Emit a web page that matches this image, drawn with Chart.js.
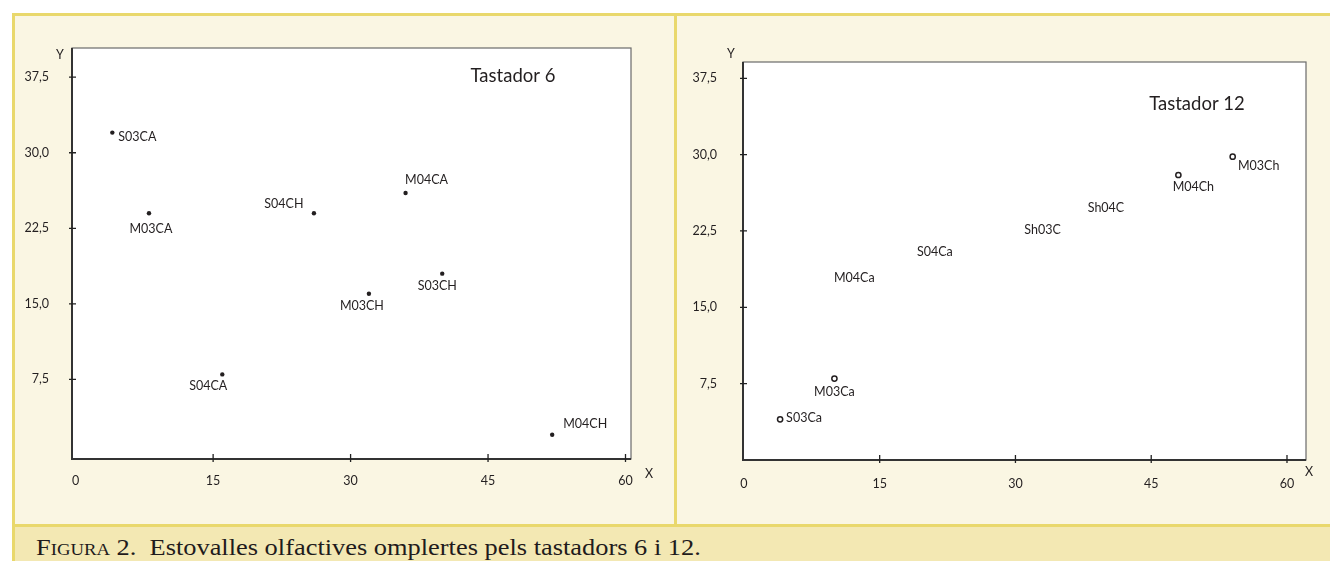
<!DOCTYPE html>
<html>
<head>
<meta charset="utf-8">
<script src="https://cdn.jsdelivr.net/npm/chart.js@4"></script>
<style>
  html, body { margin: 0; padding: 0; background: #fff; width: 1330px; height: 561px; overflow: hidden; }
  #frame { position: absolute; left: 12px; top: 13px; width: 1318px; height: 508px;
           background: #faf6e3; border-top: 3px solid #e9d86c; border-left: 3px solid #e9d86c;
           border-bottom: 3px solid #e9d86c; }
  #divider { position: absolute; left: 674px; top: 13px; width: 3px; height: 514px; background: #e9d86c; }
  #band { position: absolute; left: 12px; top: 527px; width: 1318px; height: 34px;
          background: #f3e8b3; border-left: 3px solid #e9d86c; }
  #caption { position: absolute; left: 36px; top: 530px; line-height: 34px; white-space: nowrap;
             font-family: "Liberation Serif", "DejaVu Serif", serif; font-size: 24px; color: #1f1b1c;
             transform-origin: 0 0; }
  #caption .sc { font-variant: small-caps; }
  canvas { position: absolute; }
  #c1 { left: 15px; top: 16px; }
  #c2 { left: 677px; top: 16px; }
</style>
</head>
<body>
<div id="frame"></div>
<div id="divider"></div>
<div id="band"></div>
<div id="caption"><span class="sc">Figura</span> 2.&nbsp; Estovalles olfactives omplertes pels tastadors 6 i 12.</div>
<canvas id="c1" width="659" height="508"></canvas>
<canvas id="c2" width="653" height="508"></canvas>
<script>
// tick values shared by both panels
const xTicks = [0, 15, 30, 45, 60];
const yTicks = [7.5, 15, 22.5, 30, 37.5];

// Tastador 6
const leftNames = ['S03CA', 'M03CA', 'S04CH', 'M04CA', 'S03CH', 'M03CH', 'S04CA', 'M04CH'];
const leftX = [4, 8, 26, 36, 40, 32, 16, 52];
const leftY = [32, 24, 24, 26, 18, 16, 8, 2];

// Tastador 12 (marked points)
const rightNames = ['S03Ca', 'M03Ca', 'M04Ch', 'M03Ch'];
const rightX = [4, 10, 48, 54];
const rightY = [4, 8, 28, 29.8];

// Tastador 12 (labels drawn without a marker)
const rightTextNames = ['M04Ca', 'S04Ca', 'Sh03C', 'Sh04C'];
const rightTextX = [12.2, 21.1, 33, 40];
const rightTextY = [17.9, 20.4, 22.6, 24.8];

// label placement relative to the marker: [dx, dy, align]
const leftLabelPos = [[6, 4, 'left'], [2, 16, 'center'], [-30, -9, 'center'], [21, -13, 'center'],
                      [-5, 12, 'center'], [-7, 12, 'center'], [-14, 12, 'center'], [33, -11, 'center']];
const rightLabelPos = [[6, -1, 'left'], [0, 13, 'center'], [15, 12, 'center'], [26, 9, 'center']];
const rightTextPos = rightTextNames.map(() => [0, 0, 'center']);

Chart.defaults.font.family = 'Lato, "Open Sans", sans-serif';
Chart.defaults.color = '#231f20';

const ink = '#231f20';

const toPts = (xs, ys) => xs.map((x, i) => ({ x: x, y: ys[i] }));

const panelPlugin = {
  id: 'panel',
  beforeDraw(chart) {
    const { ctx, chartArea: a } = chart;
    ctx.save();
    ctx.fillStyle = '#fff';
    ctx.fillRect(a.left, a.top, a.right - a.left, a.bottom - a.top);
    ctx.restore();
  },
  afterDraw(chart, args, opts) {
    const { ctx, chartArea: a, scales } = chart;
    ctx.save();
    // frame of the plot
    ctx.strokeStyle = '#6a6a6a';
    ctx.lineWidth = 1.2;
    ctx.strokeRect(a.left, a.top, a.right - a.left, a.bottom - a.top);
    ctx.strokeStyle = '#333';
    ctx.lineWidth = 2;
    ctx.beginPath();
    ctx.moveTo(a.left, a.top);
    ctx.lineTo(a.left, a.bottom);
    ctx.lineTo(a.right, a.bottom);
    ctx.stroke();
    // tick marks crossing the axes
    ctx.lineWidth = 1.3;
    ctx.strokeStyle = '#222';
    ctx.beginPath();
    yTicks.forEach(v => {
      const y = scales.y.getPixelForValue(v);
      ctx.moveTo(a.left - 3, y); ctx.lineTo(a.left + 4, y);
    });
    xTicks.filter(v => v > 0).forEach(v => {
      const x = scales.x.getPixelForValue(v);
      ctx.moveTo(x, a.bottom - 5); ctx.lineTo(x, a.bottom + 3);
    });
    ctx.stroke();
    // axis letters and title
    ctx.fillStyle = ink;
    ctx.textBaseline = 'middle';
    ctx.textAlign = 'center';
    ctx.font = '12.5px Lato';
    ctx.fillText('Y', opts.yAt[0], opts.yAt[1]);
    ctx.fillText('X', opts.xAt[0], opts.xAt[1]);
    ctx.font = '18.5px Lato';
    ctx.fillText(opts.title, opts.titleAt[0], opts.titleAt[1]);
    // point labels
    ctx.font = '12.5px Lato';
    chart.data.datasets.forEach((ds, di) => {
      const meta = chart.getDatasetMeta(di);
      meta.data.forEach((el, i) => {
        const p = ds.labelPos[i];
        ctx.textAlign = p[2];
        ctx.fillText(ds.names[i], el.x + p[0], el.y + p[1]);
      });
    });
    ctx.restore();
  }
};

function makeChart(id, datasets, cfg) {
  return new Chart(document.getElementById(id), {
    type: 'scatter',
    data: { datasets: datasets },
    plugins: [panelPlugin],
    options: {
      responsive: false,
      animation: false,
      events: [],
      layout: { padding: cfg.padding },
      plugins: {
        legend: { display: false },
        tooltip: { enabled: false },
        panel: cfg.panel
      },
      scales: {
        x: {
          type: 'linear',
          min: cfg.xRange[0],
          max: cfg.xRange[1],
          afterBuildTicks: s => { s.ticks = xTicks.map(v => ({ value: v })); },
          afterFit: s => { s.height = 30; },
          grid: { display: false },
          border: { display: false },
          ticks: { padding: cfg.xPad, font: { size: 12.5 }, color: ink, callback: v => String(v) }
        },
        y: {
          type: 'linear',
          min: cfg.yRange[0],
          max: cfg.yRange[1],
          afterBuildTicks: s => { s.ticks = yTicks.map(v => ({ value: v })); },
          afterFit: s => { s.width = cfg.yWidth; },
          grid: { display: false },
          border: { display: false },
          ticks: { padding: cfg.yPad, font: { size: 12.5 }, color: ink,
                   callback: v => v.toFixed(1).replace('.', ',') }
        }
      }
    }
  });
}

makeChart('c1', [{
  data: toPts(leftX, leftY),
  names: leftNames,
  labelPos: leftLabelPos,
  pointRadius: 2.2,
  pointBackgroundColor: ink,
  pointBorderWidth: 0
}], {
  padding: { left: 0, top: 32, right: 43, bottom: 35 },
  yWidth: 57,
  xPad: 6,
  yPad: 15,
  xRange: [-0.4, 60.6],
  yRange: [-0.4, 40.4],
  panel: { title: 'Tastador 6', titleAt: [498, 60], yAt: [45, 39], xAt: [634, 458] }
});

makeChart('c2', [{
  data: toPts(rightX, rightY),
  names: rightNames,
  labelPos: rightLabelPos,
  pointRadius: 2.6,
  pointBackgroundColor: '#fff',
  pointBorderColor: ink,
  pointBorderWidth: 1.5
}, {
  data: toPts(rightTextX, rightTextY),
  names: rightTextNames,
  labelPos: rightTextPos,
  pointRadius: 0
}], {
  padding: { left: 0, top: 46, right: 24, bottom: 34 },
  yWidth: 66,
  xPad: 8,
  yPad: 18,
  xRange: [-0.1, 62.1],
  yRange: [0, 39.1],
  panel: { title: 'Tastador 12', titleAt: [520, 88], yAt: [54, 38], xAt: [632, 456] }
});

// fit caption to the printed width
const cap = document.getElementById('caption');
const w = cap.getBoundingClientRect().width;
cap.style.transform = 'scaleX(' + (665 / w).toFixed(3) + ')';
</script>
</body>
</html>
